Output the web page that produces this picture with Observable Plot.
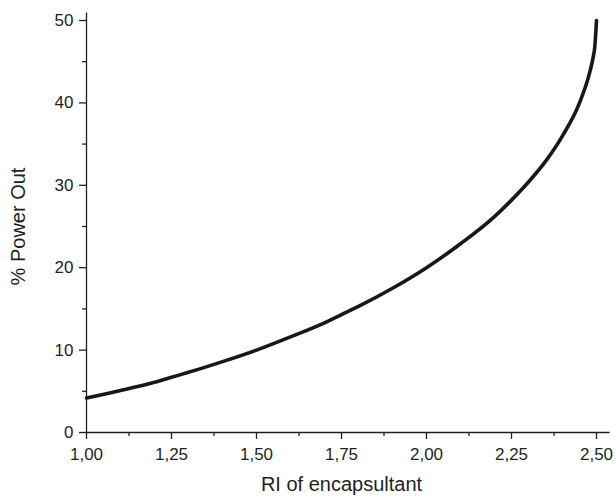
<!DOCTYPE html>
<html>
<head>
<meta charset="utf-8">
<script src="https://cdn.jsdelivr.net/npm/d3@7"></script>
<script src="https://cdn.jsdelivr.net/npm/@observablehq/plot@0.6"></script>
<style>
  html, body { margin: 0; padding: 0; background: #fff; }
  #chart svg { display: block; }
</style>
</head>
<body>
<div id="chart"></div>
<script>
// Refractive index of the encapsulant
const refractiveIndex = [1.00, 1.10, 1.20, 1.25, 1.30, 1.40, 1.50, 1.60, 1.70, 1.75, 1.80, 1.90,
  2.00, 2.10, 2.20, 2.25, 2.30, 2.35, 2.40, 2.45, 2.48, 2.49, 2.495, 2.50];
// Percentage of power extracted
const powerOut = [4.2, 5.1, 6.1, 6.7, 7.3, 8.6, 10.0, 11.6, 13.3, 14.3, 15.3, 17.5,
  20.0, 22.9, 26.2, 28.2, 30.4, 32.9, 36.0, 40.0, 43.7, 45.5, 46.8, 50.0];

const xTicks = [1.00, 1.25, 1.50, 1.75, 2.00, 2.25, 2.50];
const xMinorTicks = [1.125, 1.375, 1.625, 1.875, 2.125, 2.375];
const yTicks = [0, 10, 20, 30, 40, 50];
const yMinorTicks = [5, 15, 25, 35, 45];

const xLabel = "RI of encapsultant";
const yLabel = "% Power Out";

const data = refractiveIndex.map((n, i) => ({n, p: powerOut[i]}));
const fmt = d => d.toFixed(2).replace(".", ",");

const font = "Liberation Sans, Arial, sans-serif";
const ink = "#231f20";

const chart = Plot.plot({
  width: 616,
  height: 497,
  marginLeft: 86,
  marginRight: 20,
  marginTop: 20,
  marginBottom: 65,
  style: {fontFamily: font, color: ink, background: "#fff"},
  x: {domain: [1, 2.5]},
  y: {domain: [0, 50]},
  marks: [
    // axis lines, running a little past the last tick
    Plot.ruleY([0], {x1: 1, x2: 2.54, stroke: ink, strokeWidth: 1.3}),
    Plot.ruleX([1], {y1: 0, y2: 50.9, stroke: ink, strokeWidth: 1.3}),
    Plot.axisX({ticks: xMinorTicks, tickSize: 4, text: null, label: null, stroke: ink, strokeWidth: 1.3}),
    Plot.axisY({ticks: yMinorTicks, tickSize: 4, text: null, label: null, stroke: ink, strokeWidth: 1.3}),
    Plot.axisX({
      ticks: xTicks, tickSize: 7, tickPadding: 8, tickFormat: fmt,
      fontSize: 17, stroke: ink, strokeWidth: 1.3,
      label: xLabel, labelAnchor: "center", labelArrow: "none", labelOffset: 58
    }),
    Plot.axisY({
      ticks: yTicks, tickSize: 7, tickPadding: 6, tickFormat: d => String(d),
      fontSize: 17, stroke: ink, strokeWidth: 1.3,
      label: yLabel, labelAnchor: "center", labelArrow: "none", labelOffset: 76
    }),
    Plot.line(data, {x: "n", y: "p", curve: "monotone-x", stroke: "#1a1718", strokeWidth: 3.6, strokeLinecap: "round"})
  ]
});

// larger axis titles
chart.querySelectorAll("[aria-label='x-axis label'] text, [aria-label='y-axis label'] text")
  .forEach(t => t.setAttribute("font-size", 20));

document.getElementById("chart").append(chart);
</script>
</body>
</html>
